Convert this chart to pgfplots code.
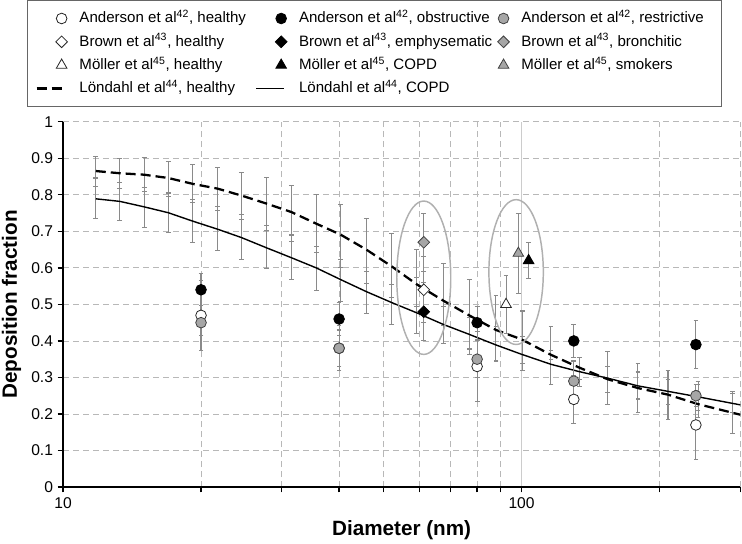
\documentclass[border=0pt]{standalone}
\usepackage{pgfplots}
\pgfplotsset{compat=1.18}
\usepackage{pgfplotstable}
\usepackage{fontspec}
\setmainfont{Liberation Sans}
\definecolor{mgray}{HTML}{A6A6A6}
\definecolor{ebar}{HTML}{8A8A8A}
\definecolor{gridc}{HTML}{B8B8B8}
\definecolor{ellc}{HTML}{B0B0B0}

% Londahl et al. curves: diameter, healthy, COPD
\pgfplotstableread{
d h c
11.79 0.865 0.789
13.30 0.859 0.782
15.03 0.855 0.767
16.96 0.846 0.751
19.17 0.830 0.728
21.71 0.817 0.706
24.49 0.798 0.683
27.77 0.776 0.655
31.45 0.753 0.628
35.66 0.721 0.600
40.30 0.691 0.568
45.86 0.650 0.535
52.10 0.604 0.505
59.06 0.555 0.477
67.56 0.510 0.445
76.88 0.470 0.418
87.93 0.430 0.389
99.7 0.405 0.364
115.9 0.362 0.336
133.6 0.327 0.316
154.2 0.295 0.298
179.4 0.271 0.277
208.6 0.253 0.262
242.6 0.227 0.247
300 0.198 0.225
}\curves

% Londahl et al. error bars: diameter, healthy, err, COPD, err
\pgfplotstableread{
d h he c ce
11.79 0.864 0.041 0.790 0.056
13.30 0.8585 0.0415 0.7815 0.0515
15.03 0.8555 0.047 0.765 0.054
16.96 0.8435 0.0475 0.7505 0.0545
19.17 0.832 0.052 0.7285 0.0595
21.71 0.8165 0.0585 0.708 0.061
24.49 0.797 0.065 0.685 0.062
27.77 0.774 0.073 0.658 0.059
31.45 0.7485 0.0765 0.6295 0.0605
35.66 0.7205 0.0795 0.599 0.060
40.30 0.6865 0.0865 0.565 0.058
45.86 0.6455 0.0885 0.532 0.057
52.10 0.606 0.088 0.500 0.055
59.06 0.572 0.078 0.497 0.077
67.56 0.527 0.084 0.444 0.051
76.88 0.473 0.095 0.414 0.050
87.93 0.436 0.089 0.391 0.048
100.6 0.410 0.072 0.365 0.047
115.9 0.3945 0.0445 0.3265 0.0465
133.6 0.325 0.030 0.315 0.040
154.2 0.315 0.056 0.2775 0.0525
179.4 0.2895 0.0485 0.259 0.056
208.6 0.2725 0.0455 0.2395 0.0545
242.6 0.235 0.045 0.250 0.040
288.3 0.2335 0.0285 0.201 0.054
}\bars

\pgfplotsset{
  ebars/.style={error bars/.cd, y dir=both, y explicit,
    error bar style={ebar, line width=0.8pt, solid},
    error mark options={ebar, mark size=1.8pt, line width=0.8pt, rotate=90}},
  markleg/.style={legend image code/.code={\draw[mark repeat=2,mark phase=2,##1] plot coordinates {(0pt,0pt) (18.75pt,0pt) (21pt,0pt)};}},
  lineleg/.style={legend image code/.code={\draw[##1] (0pt,0pt) -- (21pt,0pt);}},
}
\newcommand{\lent}[2]{\makebox[#1][l]{#2}}

\begin{document}
\begin{tikzpicture}[trim left=-47.25pt, trim right=509.25pt]
\begin{axis}[
  xmode=log, xmin=10, xmax=300, ymin=0, ymax=1,
  scale only axis, width=508pt, height=274pt,
  axis x line*=bottom, axis y line*=left,
  axis line style={line width=1.3pt, black},
  xtick={10,100}, xticklabels={10,100},
  minor xtick={20,30,40,50,60,70,80,90,200,300},
  ytick={0,0.1,0.2,0.3,0.4,0.5,0.6,0.7,0.8,0.9,1},
  yticklabel style={/pgf/number format/fixed, /pgf/number format/precision=1},
  /pgf/number format/assume math mode=true,
  tick align=outside, major tick length=4pt, minor tick length=4pt,
  tick style={black, line width=1pt},
  xmajorgrids, xminorgrids, ymajorgrids,
  major x grid style={draw=gray!40, line width=0.6pt, solid},
  minor x grid style={draw=gridc, line width=0.6pt, dash pattern=on 4.5pt off 3pt},
  major y grid style={draw=gridc, line width=0.6pt, dash pattern=on 4.5pt off 3pt},
  tick label style={font=\fontsize{11.7}{14}\selectfont},
  xlabel={Diameter (nm)},
  ylabel={Deposition fraction},
  xlabel style={font=\fontsize{15.5}{18}\selectfont\bfseries,
    at={([yshift=-32pt]axis description cs:0.5,0)}, anchor=center},
  ylabel style={font=\fontsize{15.5}{18}\selectfont\bfseries, inner sep=0pt,
    at={([xshift=-46pt]axis description cs:0,0.5)}, anchor=north},
  legend cell align=left,
  legend columns=3,
  legend style={at={(0,1)}, anchor=north west, xshift=-27pt, yshift=91.3pt,
    draw=black!60, line width=0.75pt,
    font=\fontsize{11.3}{13}\selectfont,
    inner xsep=6pt, inner ysep=4.75pt, row sep=0pt,
    nodes={inner xsep=2pt, inner ysep=0pt, text height=12pt, text depth=5.5pt},
    /tikz/every odd column/.append style={column sep=7pt},
    /tikz/every even column/.append style={column sep=0pt}},
]

% Londahl error bars
\addplot[forget plot, no markers, draw=none, ebars] table[x=d, y=h, y error=he]{\bars};
\addplot[forget plot, no markers, draw=none, ebars] table[x=d, y=c, y error=ce]{\bars};

% Londahl curves
\addplot[forget plot, black, no markers, line width=1.7pt, dash pattern=on 7.5pt off 3.75pt] table[x=d, y=h]{\curves};
\addplot[forget plot, black, no markers, line width=1.05pt] table[x=d, y=c]{\curves};

% ellipses
\draw[ellc, line width=1.1pt] (axis cs:61.2,0.573) ellipse [x radius=20.25pt, y radius=57.5pt];
\draw[ellc, line width=1.1pt] (axis cs:97.3,0.5885) ellipse [x radius=20.4pt, y radius=54.3pt];

% Anderson et al.
\addplot[markleg, black, only marks, mark=*, mark size=4pt, mark options={fill=white, draw=black!85, line width=0.6pt}, ebars]
  coordinates {(20,0.47) +- (0,0.095) (40,0.38) +- (0,0.05) (80,0.33) +- (0,0.095) (130,0.24) +- (0,0.065) (240,0.17) +- (0,0.095)};
\addlegendentry{\lent{130pt}{Anderson et al\textsuperscript{42}, healthy}}
\addplot[markleg, black, only marks, mark=*, mark size=4pt, mark options={fill=black, draw=black, line width=0.6pt}, ebars]
  coordinates {(20,0.54) +- (0,0.044) (40,0.46) +- (0,0.045) (80,0.45) +- (0,0.045) (130,0.40) +- (0,0.045) (240,0.39) +- (0,0.066)};
\addlegendentry{\lent{147pt}{Anderson et al\textsuperscript{42}, obstructive}}
\addplot[markleg, black, only marks, mark=*, mark size=4pt, mark options={fill=mgray, draw=black!75, line width=0.6pt}, ebars]
  coordinates {(20,0.45) +- (0,0.034) (40,0.38) +- (0,0.062) (80,0.35) +- (0,0.05) (130,0.29) +- (0,0.055) (240,0.25) +- (0,0.03)};
\addlegendentry{\lent{142pt}{Anderson et al\textsuperscript{42}, restrictive}}

% Brown et al.
\addplot[markleg, black, only marks, mark=square*, mark size=3.1pt, mark options={rotate=45, fill=white, draw=black!85, line width=0.6pt}, ebars]
  coordinates {(61.2,0.54) +- (0,0.09)};
\addlegendentry{\lent{130pt}{Brown et al\textsuperscript{43}, healthy}}
\addplot[markleg, black, only marks, mark=square*, mark size=3.1pt, mark options={rotate=45, fill=black, draw=black, line width=0.6pt}, ebars]
  coordinates {(61.2,0.48) +- (0,0.08)};
\addlegendentry{\lent{147pt}{Brown et al\textsuperscript{43}, emphysematic}}
\addplot[markleg, black, only marks, mark=square*, mark size=3.1pt, mark options={rotate=45, fill=mgray, draw=black!75, line width=0.6pt}, ebars]
  coordinates {(61.2,0.67) +- (0,0.08)};
\addlegendentry{\lent{142pt}{Brown et al\textsuperscript{43}, bronchitic}}

% Moller et al.
\addplot[markleg, black, only marks, mark=triangle*, mark size=4.6pt, mark options={fill=white, draw=black!85, line width=0.6pt}, ebars]
  coordinates {(92.5,0.50) +- (0,0.08)};
\addlegendentry{\lent{130pt}{Möller et al\textsuperscript{45}, healthy}}
\addplot[markleg, black, only marks, mark=triangle*, mark size=4.6pt, mark options={fill=black, draw=black, line width=0.6pt}, ebars]
  coordinates {(103.6,0.62) +- (0,0.05)};
\addlegendentry{\lent{147pt}{Möller et al\textsuperscript{45}, COPD}}
\addplot[markleg, black, only marks, mark=triangle*, mark size=4.6pt, mark options={fill=mgray, draw=black!75, line width=0.6pt}, ebars]
  coordinates {(98.4,0.64) +- (0,0.11)};
\addlegendentry{\lent{142pt}{Möller et al\textsuperscript{45}, smokers}}

% legend entries for Londahl curves
\addlegendimage{lineleg, black, line width=1.7pt, dash pattern=on 7.5pt off 3.75pt}
\addlegendentry{\lent{130pt}{Löndahl et al\textsuperscript{44}, healthy}}
\addlegendimage{lineleg, black, line width=1.05pt}
\addlegendentry{\lent{147pt}{Löndahl et al\textsuperscript{44}, COPD}}

\end{axis}
\end{tikzpicture}
\end{document}
